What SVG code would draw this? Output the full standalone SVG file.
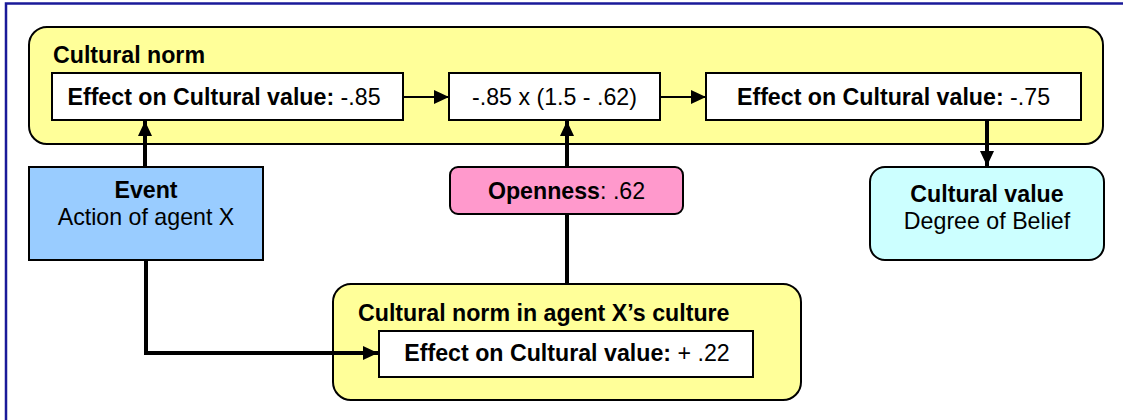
<svg xmlns="http://www.w3.org/2000/svg" width="1123" height="420" viewBox="0 0 1123 420">
  <style>
    text { font-family: "Liberation Sans", Arial, sans-serif; font-size: 23.2px; fill: #000; }
    .b { font-weight: bold; }
    .container { fill: #FFFF99; stroke: #000; stroke-width: 2; }
    .box { fill: #FFFFFF; stroke: #000; stroke-width: 2; }
    .thin { stroke: #000; stroke-width: 2; fill: none; }
    .thick { stroke: #000; stroke-width: 4; fill: none; }
  </style>
  <defs>
    <marker id="head" markerUnits="userSpaceOnUse" markerWidth="16" markerHeight="16" viewBox="0 0 16 16" refX="15" refY="8" orient="auto">
      <path d="M0,1 L15,8 L0,15 Z" fill="#000"/>
    </marker>
  </defs>

  <rect width="1123" height="420" fill="#FFFFFF"/>
  <!-- page frame -->
  <path d="M6,420 L6,3.5 L1123,3.5" fill="none" stroke="#1a1a99" stroke-width="2.5"/>

  <g id="cultural-norm">
    <rect class="container" x="29" y="27" width="1074" height="117" rx="18"/>
    <text class="b" x="53" y="63">Cultural norm</text>
  </g>

  <g id="effect-85">
    <rect class="box" x="52" y="73" width="351" height="47"/>
    <text x="224" y="105" text-anchor="middle"><tspan class="b">Effect on Cultural value:</tspan> -.85</text>
  </g>

  <g id="formula">
    <rect class="box" x="449" y="73" width="211" height="47"/>
    <text x="554.5" y="105" text-anchor="middle">-.85 x (1.5 - .62)</text>
  </g>

  <g id="effect-75">
    <rect class="box" x="706" y="73" width="375" height="47"/>
    <text x="893.5" y="105" text-anchor="middle"><tspan class="b">Effect on Cultural value:</tspan> -.75</text>
  </g>

  <g id="event">
    <rect x="29" y="167" width="234" height="93" fill="#99CCFF" stroke="#000" stroke-width="2"/>
    <text class="b" x="146" y="198" text-anchor="middle">Event</text>
    <text x="146" y="225" text-anchor="middle">Action of agent X</text>
  </g>

  <g id="openness">
    <rect x="450" y="167" width="233" height="47" rx="8" fill="#FF99CC" stroke="#000" stroke-width="2"/>
    <text x="566.5" y="199" text-anchor="middle"><tspan class="b">Openness</tspan>: .62</text>
  </g>

  <g id="cultural-value">
    <rect x="870" y="167" width="234" height="93" rx="15" fill="#CCFFFF" stroke="#000" stroke-width="2"/>
    <text class="b" x="987" y="202" text-anchor="middle">Cultural value</text>
    <text x="987" y="229" text-anchor="middle">Degree of Belief</text>
  </g>

  <g id="norm-agent-x">
    <rect class="container" x="333" y="284" width="468" height="116" rx="18"/>
    <text class="b" x="358" y="321">Cultural norm in agent X’s culture</text>
    <rect class="box" x="379" y="331" width="374" height="46"/>
    <text x="567" y="361" text-anchor="middle"><tspan class="b">Effect on Cultural value:</tspan> + .22</text>
  </g>

  <g id="connectors">
    <line class="thin" x1="403" y1="97" x2="449" y2="97" marker-end="url(#head)"/>
    <line class="thin" x1="660" y1="97" x2="706" y2="97" marker-end="url(#head)"/>
    <line class="thick" x1="987" y1="120" x2="987" y2="166" marker-end="url(#head)"/>
    <line class="thick" x1="145" y1="167" x2="145" y2="121" marker-end="url(#head)"/>
    <line class="thick" x1="567" y1="167" x2="567" y2="121" marker-end="url(#head)"/>
    <line class="thick" x1="567" y1="284" x2="567" y2="214"/>
    <polyline class="thick" points="146,260 146,353 378,353" marker-end="url(#head)"/>
  </g>
</svg>
